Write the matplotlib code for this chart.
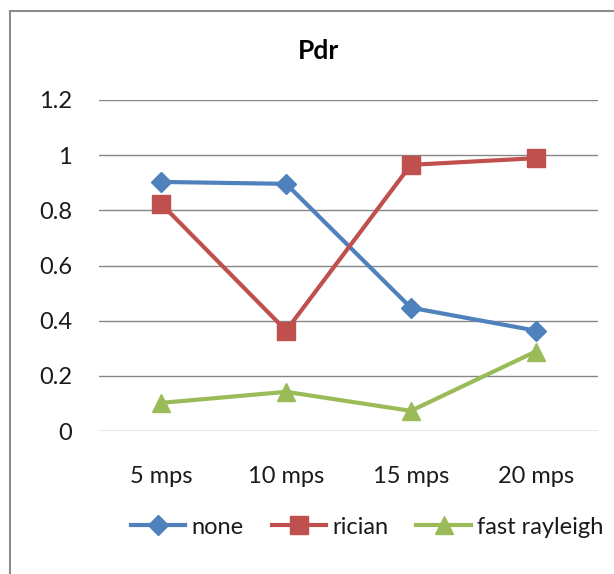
import matplotlib.pyplot as plt
from matplotlib.patches import Rectangle

categories = ['5 mps', '10 mps', '15 mps', '20 mps']
none_vals = [0.903, 0.896, 0.447, 0.364]
rician_vals = [0.823, 0.364, 0.965, 0.989]
rayleigh_vals = [0.102, 0.142, 0.073, 0.288]
yticks = [0, 0.2, 0.4, 0.6, 0.8, 1, 1.2]
ytick_labels = ['0', '0.2', '0.4', '0.6', '0.8', '1', '1.2']

plt.rcParams['font.family'] = ['Lato', 'DejaVu Sans']

W, H = 614, 574
fig = plt.figure(figsize=(W/100, H/100), dpi=100)

# chart area frame (right and bottom edges fall outside the picture)
fig.patches.append(Rectangle((10/W, -0.1), 1.2, (H-11)/H + 0.1, transform=fig.transFigure,
                             fill=False, edgecolor='#8c8c8c', linewidth=1.5))

ax = fig.add_axes([99/W, (H-431)/H, (598-99)/W, (431-100)/H])
x = range(len(categories))
ax.plot(x, none_vals, color='#4F81BD', lw=3, marker='D', ms=10.5, label='none')
ax.plot(x, rician_vals, color='#C0504D', lw=3, marker='s', ms=13.5, label='rician')
ax.plot(x, rayleigh_vals, color='#9BBB59', lw=3, marker='^', ms=13.5, label='fast rayleigh')

ax.set_xlim(-0.5, 3.5)
ax.set_ylim(0, 1.2)
ax.set_yticks(yticks)
ax.set_yticklabels(ytick_labels)
ax.set_xticks(list(x))
ax.set_xticklabels(categories)
ax.grid(axis='y', color='#868686', lw=1)
ax.set_axisbelow(True)
for s in ax.spines.values():
    s.set_visible(False)
ax.tick_params(length=0, labelsize=17, colors='#1a1a1a')
ax.tick_params(axis='y', pad=19.5)
ax.tick_params(axis='x', pad=25)

fig.text(319/W, 1 - 51/H, 'Pdr', ha='center', va='center', fontsize=19, fontweight='bold')

fig.legend(loc='center', bbox_to_anchor=(367/W, 1 - 527/H), ncol=3, frameon=False,
           fontsize=17, handlelength=2.3, handletextpad=0.25, columnspacing=1.2,
           labelcolor='#1a1a1a')

fig.savefig('out.png', dpi=100)
